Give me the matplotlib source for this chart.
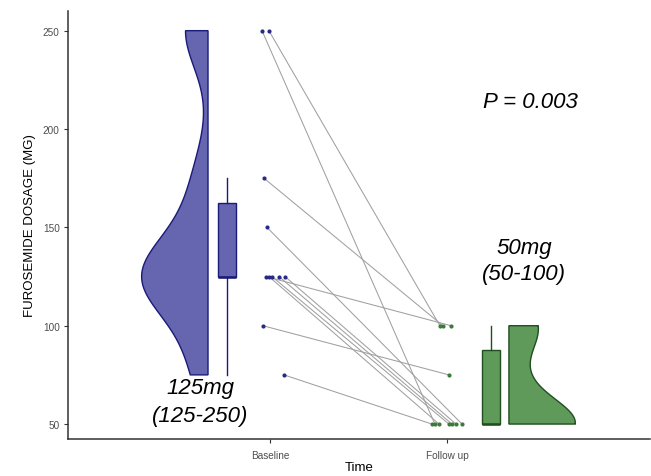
import numpy as np
import matplotlib
matplotlib.use("Agg")
import matplotlib.pyplot as plt

# ---- data ----
groups = ["Baseline", "Follow up"]
baseline = [250, 250, 175, 150, 125, 125, 125, 125, 125, 100, 75]
follow_up = [50, 100, 100, 50, 100, 50, 50, 50, 50, 75, 50]
baseline_jitter = [-0.045, -0.006, -0.034, -0.017, -0.023, -0.006, 0.011, 0.051, 0.085, -0.040, 0.079]
follow_jitter = [-0.068, -0.040, -0.023, 0.085, 0.023, -0.045, 0.011, 0.028, 0.051, 0.011, -0.085]
bandwidths = [19.0, 12.9]
p_text = "P = 0.003"
summary_text = ["125mg\n(125-250)", "50mg\n(50-100)"]
y_ticks = [50, 100, 150, 200, 250]

fills = ["#6565b0", "#5f9a5b"]
edges = ["#1a1a7a", "#1f4f1f"]
dots = ["#2a2a86", "#3d7a3a"]

fig = plt.figure(figsize=(6.51, 4.77), dpi=100)
ax = fig.add_axes([68/651, 37/477, 582/651, 428/477])

xpos = [1, 2]
# connecting lines
for b, f, jb, jf in zip(baseline, follow_up, baseline_jitter, follow_jitter):
    ax.plot([xpos[0] + jb, xpos[1] + jf], [b, f], color="#a0a0a0", lw=0.75, zorder=2)
ax.scatter([xpos[0] + j for j in baseline_jitter], baseline, s=9, color=dots[0], zorder=3, linewidths=0)
ax.scatter([xpos[1] + j for j in follow_jitter], follow_up, s=9, color=dots[1], zorder=3, linewidths=0)

# half violins
def kde(data, bw, grid):
    d = np.asarray(data, float)
    return np.exp(-0.5 * ((grid[:, None] - d[None, :]) / bw) ** 2).sum(axis=1)

max_w = 0.375
for i, (data, side, edge_off) in enumerate([(baseline, -1, -0.35), (follow_up, 1, 0.35)]):
    grid = np.linspace(min(data), max(data), 300)
    dens = kde(data, bandwidths[i], grid)
    dens = dens / dens.max() * max_w
    base = xpos[i] + edge_off
    xs = base + side * dens
    poly_x = np.concatenate([[base], xs, [base]])
    poly_y = np.concatenate([[grid[0]], grid, [grid[-1]]])
    ax.fill(poly_x, poly_y, facecolor=fills[i], edgecolor=edges[i], lw=1.0, zorder=2)

# boxplots
box_offsets = [-0.243, 0.249]
for i, data in enumerate([baseline, follow_up]):
    ax.boxplot([data], positions=[xpos[i] + box_offsets[i]], widths=0.10, whis=1.5,
               showfliers=False, patch_artist=True, manage_ticks=False,
               boxprops=dict(facecolor=fills[i], edgecolor=edges[i], lw=1.0),
               whiskerprops=dict(color=edges[i], lw=1.0),
               capprops=dict(color=edges[i], lw=0, alpha=0),
               medianprops=dict(color=edges[i], lw=1.8), zorder=2)

# annotations
ax.text(2.47, 214, p_text, fontsize=16, style="italic", ha="center", va="center",
        family="Liberation Sans")
ax.text(0.605, 61.4, summary_text[0], fontsize=16, style="italic", ha="center", va="center",
        family="Liberation Sans", linespacing=1.45)
ax.text(2.435, 133, summary_text[1], fontsize=16, style="italic", ha="center", va="center",
        family="Liberation Sans", linespacing=1.3)

ax.set_xlim(-0.141, 3.147)
ax.set_ylim(42.4, 260)
ax.set_xticks(xpos)
ax.set_xticklabels(groups)
ax.set_yticks(y_ticks)
for s in ["top", "right"]:
    ax.spines[s].set_visible(False)
for s in ["left", "bottom"]:
    ax.spines[s].set_color("#333333")
    ax.spines[s].set_linewidth(1.1)
ax.tick_params(axis="both", length=3, width=0.8, color="#333333", labelsize=7.2,
               labelcolor="#4d4d4d")
ax.tick_params(axis="x", pad=5)
ax.tick_params(axis="y", pad=3)
for lab in ax.get_xticklabels() + ax.get_yticklabels():
    lab.set_family("Liberation Sans")
ax.set_ylabel("FUROSEMIDE DOSAGE (MG)", fontsize=9.5, family="Liberation Sans", labelpad=5)
ax.set_xlabel("Time", fontsize=9.5, family="Liberation Sans", labelpad=1)

fig.savefig("out.png", dpi=100)
